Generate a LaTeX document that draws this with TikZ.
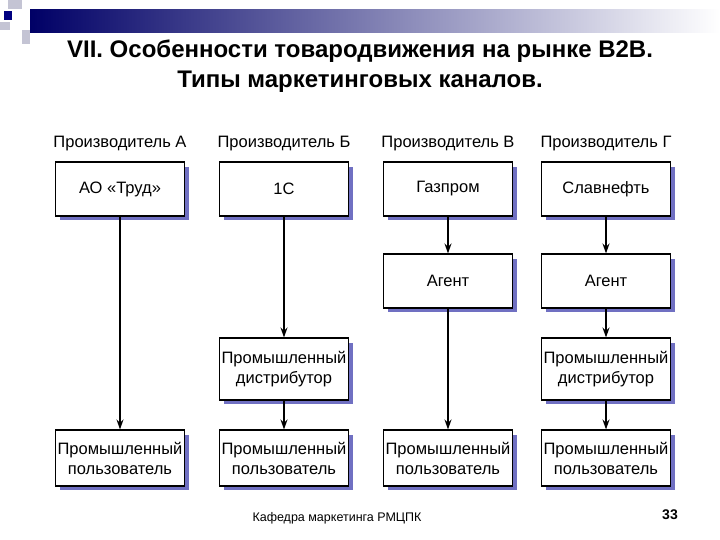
\documentclass[tikz,border=0pt]{standalone}
\usepackage{fontspec}
\usetikzlibrary{arrows.meta}
\setmainfont{Liberation Sans}
\tikzset{
  bx/.style={draw=black,line width=1.1pt,fill=white,minimum width=129pt,minimum height=54pt,align=center,font=\fontsize{16.5}{20}\selectfont,inner sep=1pt},
  sh/.style={fill=blue!40!gray!80!white},
  hd/.style={font=\fontsize{16.5}{20}\selectfont},
  ar/.style={-{Stealth[length=10pt,width=7pt]},line width=1.3pt}
}
\begin{document}
\begin{tikzpicture}[x=1pt,y=-1pt]
\useasboundingbox (0,0) rectangle (720,540);
% decoration
\shade[left color=blue!40!black, right color=white] (30,10) rectangle (720,33);
\fill[blue!15!gray!40] (8,0) rectangle (22,9);
\fill[blue!15!gray!40] (0,22) rectangle (10,30);
\fill[blue!15!gray!40] (22,30) rectangle (30,44);
\fill[blue!50!black] (4,11) rectangle (12,20);
\node[font=\bfseries\fontsize{24}{30}\selectfont,align=center] (t) at (360,66) {VII. Особенности товародвижения на рынке B2B.\\Типы маркетинговых каналов.};
% headers
\foreach \x/\n/\t in {120/h1/Производитель А,284/h2/Производитель Б,448/h3/Производитель В,606/h4/Производитель Г}
  \node[hd] (\n) at (\x,144) {\t};
% shadows + boxes
\foreach \n/\x/\y/\h/\t in {
 a1/120/189/54/{АО «Труд»}, b1/284/189/54/1С, c1/448/189/54/Газпром, d1/606/189/54/Славнефть,
 c2/448/281/54/Агент, d2/606/281/54/Агент,
 b3/284/369/62/{Промышленный\\дистрибутор}, d3/606/369/62/{Промышленный\\дистрибутор},
 a4/120/458/56/{Промышленный\\пользователь}, b4/284/458/56/{Промышленный\\пользователь},
 c4/448/458/56/{Промышленный\\пользователь}, d4/606/458/56/{Промышленный\\пользователь}}
{
  \fill[sh] (\x-60.5,\y-\h/2+5) rectangle (\x+68.5,\y+\h/2+4);
  \node[bx,minimum height=\h pt] (\n) at (\x,\y) {\t};
}
\draw[ar] (a1) -- (a4);
\draw[ar] (b1) -- (b3);
\draw[ar] (b3) -- (b4);
\draw[ar] (c1) -- (c2);
\draw[ar] (c2) -- (c4);
\draw[ar] (d1) -- (d2);
\draw[ar] (d2) -- (d3);
\draw[ar] (d3) -- (d4);
\node[font=\fontsize{12.5}{15}\selectfont] (f) at (337,518) {Кафедра маркетинга РМЦПК};
\node[font=\bfseries\fontsize{14}{16}\selectfont] (p) at (670,515) {33};
\end{tikzpicture}
\end{document}
